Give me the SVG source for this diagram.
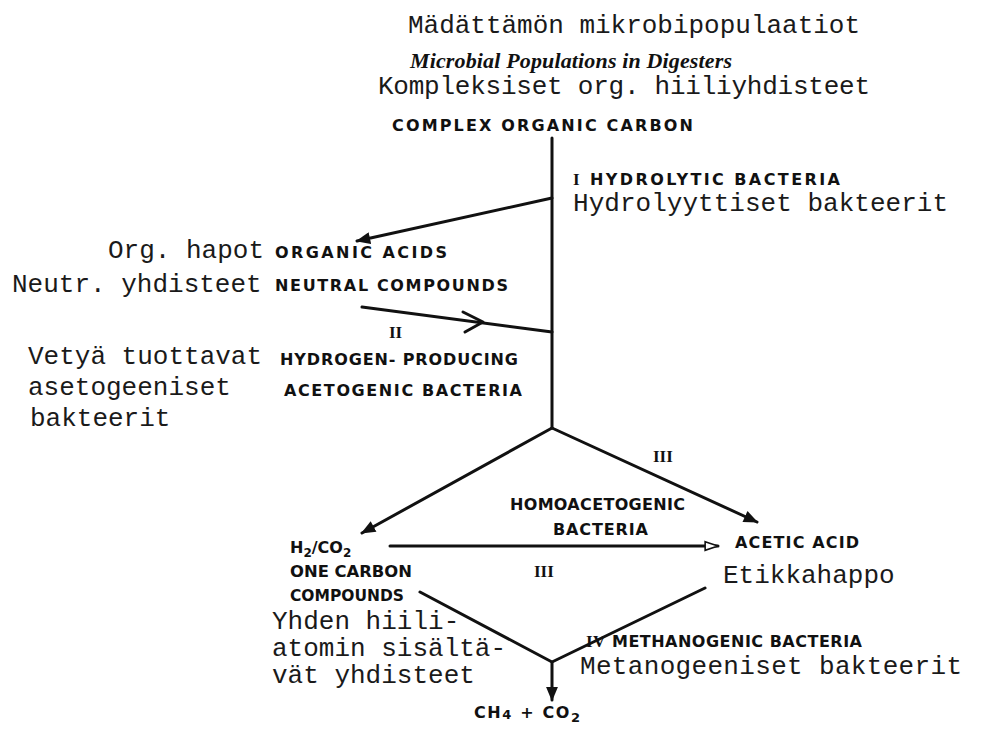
<svg xmlns="http://www.w3.org/2000/svg" width="998" height="729" viewBox="0 0 998 729">
<defs>
<style>
.fi{font-family:"Liberation Mono","Courier New",monospace;font-size:26px;fill:#1a1a1a}
.en{font-family:"DejaVu Sans","Liberation Sans",sans-serif;font-weight:bold;font-size:16px;fill:#111}
.ti{font-family:"Liberation Serif","Times New Roman",serif;font-weight:bold;font-style:italic;font-size:22px;fill:#111}
.rn{font-family:"Liberation Serif","Times New Roman",serif;font-weight:bold;font-size:17px;fill:#111}
.ln{stroke:#111;stroke-width:3;fill:none;stroke-linecap:round;stroke-linejoin:round}
</style>
<marker id="ah" viewBox="0 0 12 10" refX="11" refY="5" markerWidth="5" markerHeight="4" markerUnits="strokeWidth" orient="auto">
<path d="M0,0 L12,5 L0,10 Z" fill="#111"/>
</marker>
<marker id="ahh" viewBox="0 0 14 10" refX="13" refY="5" markerWidth="5" markerHeight="4" markerUnits="strokeWidth" orient="auto">
<path d="M1,1 L13,5 L1,9 Z" fill="#fff" stroke="#111" stroke-width="1.5"/>
</marker>
</defs>
<rect width="998" height="729" fill="#fff"/>

<g id="title">
<text class="fi" x="408" y="33" textLength="452">Mädättämön mikrobipopulaatiot</text>
<text class="ti" x="410" y="68" textLength="322">Microbial Populations in Digesters</text>
</g>

<g id="complex-carbon">
<text class="fi" x="378" y="94" textLength="492">Kompleksiset org. hiiliyhdisteet</text>
<text class="en" x="392" y="131" font-size="18" textLength="301">COMPLEX  ORGANIC  CARBON</text>
</g>

<g id="hydrolytic">
<text class="en" x="573" y="185" font-size="14" textLength="267"><tspan class="rn" font-size="15">I</tspan> HYDROLYTIC BACTERIA</text>
<text class="fi" x="573" y="211" textLength="375">Hydrolyyttiset bakteerit</text>
</g>

<g id="organic-acids">
<text class="fi" x="108" y="258">Org. hapot</text>
<text class="en" x="275" y="258" textLength="172">ORGANIC  ACIDS</text>
<text class="fi" x="12" y="292">Neutr. yhdisteet</text>
<text class="en" x="275" y="291" textLength="233">NEUTRAL  COMPOUNDS</text>
</g>

<g id="acetogenic">
<text class="rn" x="389" y="338">II</text>
<text class="fi" x="28" y="364">Vetyä tuottavat</text>
<text class="en" x="280" y="365" font-size="15" textLength="238">HYDROGEN- PRODUCING</text>
<text class="fi" x="28" y="395">asetogeeniset</text>
<text class="en" x="284" y="396" font-size="15" textLength="238">ACETOGENIC  BACTERIA</text>
<text class="fi" x="30" y="426">bakteerit</text>
</g>

<g id="homoacetogenic">
<text class="rn" x="653" y="462">III</text>
<text class="en" x="510" y="510" textLength="175">HOMOACETOGENIC</text>
<text class="en" x="553" y="535" textLength="95">BACTERIA</text>
<text class="rn" x="534" y="577">III</text>
</g>

<g id="h2co2">
<text class="en" x="290" y="553" font-size="17">H<tspan font-size="12" dy="4">2</tspan><tspan dy="-4">/CO</tspan><tspan font-size="12" dy="4">2</tspan></text>
<text class="en" x="290" y="577" font-size="14.5" textLength="122" lengthAdjust="spacingAndGlyphs">ONE CARBON</text>
<text class="en" x="290" y="601" font-size="14.5" textLength="114" lengthAdjust="spacingAndGlyphs">COMPOUNDS</text>
<text class="fi" x="272" y="629" font-size="22">Yhden hiili-</text>
<text class="fi" x="272" y="656" font-size="22">atomin sisältä-</text>
<text class="fi" x="272" y="683" font-size="22">vät yhdisteet</text>
</g>

<g id="acetic-acid">
<text class="en" x="735" y="548" textLength="124">ACETIC ACID</text>
<text class="fi" x="723" y="583">Etikkahappo</text>
</g>

<g id="methanogenic">
<text class="en" x="586" y="647" font-size="14" textLength="276"><tspan class="rn" font-size="15">IV</tspan> METHANOGENIC BACTERIA</text>
<text class="fi" x="580" y="674" textLength="382">Metanogeeniset bakteerit</text>
</g>

<g id="products">
<text class="en" x="474" y="718" font-size="17" textLength="106">CH<tspan font-size="13" dy="1">4</tspan><tspan dy="-1">  +  CO</tspan><tspan font-size="13" dy="4">2</tspan></text>
</g>

<g id="connectors">
<line class="ln" x1="552" y1="138" x2="552" y2="428"/>
<line class="ln" x1="552" y1="198" x2="357" y2="241" marker-end="url(#ah)"/>
<line class="ln" x1="362" y1="307" x2="552" y2="332"/>
<polyline class="ln" points="463,312 483,322 465,332"/>
<line class="ln" x1="552" y1="428" x2="362" y2="533" marker-end="url(#ah)"/>
<line class="ln" x1="552" y1="428" x2="757" y2="522" marker-end="url(#ah)"/>
<line class="ln" x1="390" y1="546" x2="718" y2="546" marker-end="url(#ahh)"/>
<polyline class="ln" points="420,592 552,662 705,588"/>
<line class="ln" x1="552" y1="662" x2="552" y2="700" marker-end="url(#ah)"/>
</g>
</svg>
